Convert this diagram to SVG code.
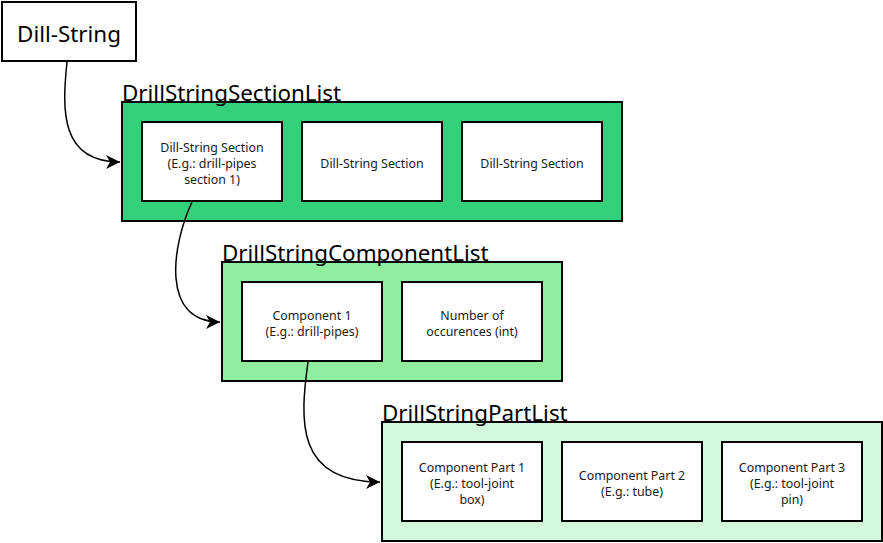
<svg xmlns="http://www.w3.org/2000/svg" width="883" height="543" viewBox="0 0 883 543">
<style>
.box{fill:#fff;stroke:#000;stroke-width:2}
.cont{stroke:#000;stroke-width:2}
.t{font-family:"Noto Sans","Open Sans",sans-serif;font-size:12.4px;fill:#1a1a1a;text-anchor:middle}
.title{font-family:"Noto Sans","Open Sans",sans-serif;font-size:22.4px;fill:#000}
.conn{fill:none;stroke:#000;stroke-width:1.5}
</style>
<defs>
<marker id="arr" markerWidth="16" markerHeight="14" refX="14" refY="7" orient="auto" markerUnits="userSpaceOnUse">
<path d="M0,0 L14,7 L0,14 L4,7 Z" fill="#000"/>
</marker>
</defs>
<rect width="883" height="543" fill="#fff"/>
<g id="dillstring">
<rect class="box" x="2" y="2" width="134" height="59"/>
<text class="title" x="69" y="42" text-anchor="middle">Dill-String</text>
</g>
<g id="sectionlist">
<rect class="cont" x="122" y="102" width="500" height="119" fill="#34d17c"/>
<text class="title" x="122" y="101">DrillStringSectionList</text>
<rect class="box" x="142" y="122" width="140" height="79"/>
<text class="t" x="212" y="152">Dill-String Section</text>
<text class="t" x="212" y="168">(E.g.: drill-pipes</text>
<text class="t" x="212" y="184">section 1)</text>
<rect class="box" x="302" y="122" width="140" height="79"/>
<text class="t" x="372" y="168">Dill-String Section</text>
<rect class="box" x="462" y="122" width="140" height="79"/>
<text class="t" x="532" y="168">Dill-String Section</text>
</g>
<g id="componentlist">
<rect class="cont" x="222" y="262" width="340" height="119" fill="#90ee9f"/>
<text class="title" x="222" y="261">DrillStringComponentList</text>
<rect class="box" x="242" y="282" width="140" height="79"/>
<text class="t" x="312" y="320">Component 1</text>
<text class="t" x="312" y="336">(E.g.: drill-pipes)</text>
<rect class="box" x="402" y="282" width="140" height="79"/>
<text class="t" x="472" y="320">Number of</text>
<text class="t" x="472" y="336">occurences (int)</text>
</g>
<g id="partlist">
<rect class="cont" x="382" y="422" width="500" height="119" fill="#d4f8dc"/>
<text class="title" x="382" y="421">DrillStringPartList</text>
<rect class="box" x="402" y="442" width="140" height="79"/>
<text class="t" x="472" y="472">Component Part 1</text>
<text class="t" x="472" y="488">(E.g.: tool-joint</text>
<text class="t" x="472" y="504">box)</text>
<rect class="box" x="562" y="442" width="140" height="79"/>
<text class="t" x="632" y="480">Component Part 2</text>
<text class="t" x="632" y="496">(E.g.: tube)</text>
<rect class="box" x="722" y="442" width="140" height="79"/>
<text class="t" x="792" y="472">Component Part 3</text>
<text class="t" x="792" y="488">(E.g.: tool-joint</text>
<text class="t" x="792" y="504">pin)</text>
</g>
<g id="connectors">
<path class="conn" d="M67,62 C62,110 60,162 120,162" marker-end="url(#arr)"/>
<path class="conn" d="M192,202 C172,245 160,322 220,322" marker-end="url(#arr)"/>
<path class="conn" d="M308,362 C300,420 295,482 380,482" marker-end="url(#arr)"/>
</g>
</svg>
